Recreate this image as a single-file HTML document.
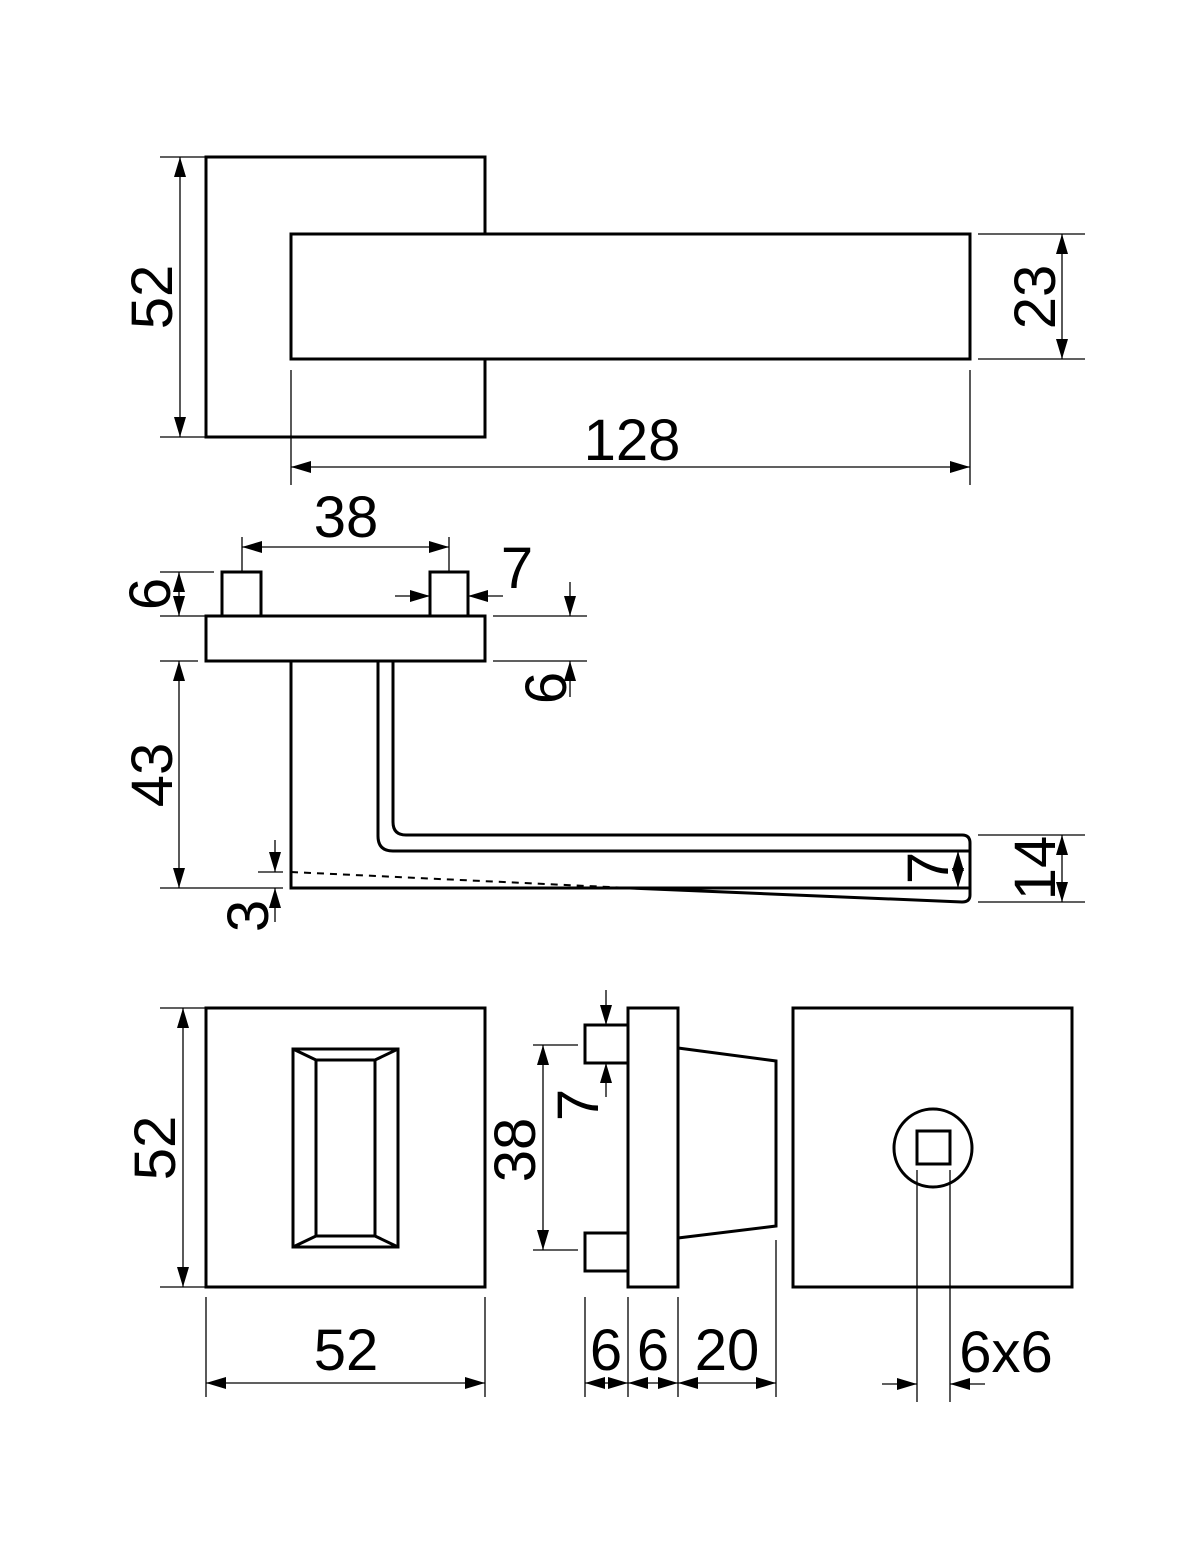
<!DOCTYPE html>
<html><head><meta charset="utf-8"><style>
html,body{margin:0;padding:0;background:#fff;}
svg{display:block;}
text{font-family:"Liberation Sans",Arial,sans-serif;font-size:58px;fill:#000;}
</style></head><body>
<svg width="1200" height="1558" viewBox="0 0 1200 1558" xmlns="http://www.w3.org/2000/svg">
<defs>
<marker id="a" viewBox="0 0 20 12" refX="20" refY="6" markerWidth="20" markerHeight="12" markerUnits="userSpaceOnUse" orient="auto-start-reverse"><path d="M0,0 L20,6 L0,12 Z" fill="#000"/></marker>
</defs>
<g fill="none" stroke="#000" stroke-width="3">
<rect x="206" y="157" width="279" height="280"/>
<rect x="291" y="234" width="679" height="125" fill="#fff"/>
<rect x="222" y="572" width="39" height="44"/>
<rect x="430" y="572" width="38" height="44"/>
<rect x="206" y="616" width="279" height="45"/>
<path d="M291,661 V888 H970"/>
<path d="M378,661 V836 Q378,851 393,851 H970"/>
<path d="M393,661 V822 Q393,835 406,835 H962 Q970,835 970,843 V895 Q970,902 962,902 L630,888"/>
<rect x="206" y="1008" width="279" height="279"/>
<rect x="293" y="1049" width="105" height="198"/>
<rect x="316" y="1060" width="59" height="176"/>
<path d="M293,1049 L316,1060 M398,1049 L375,1060 M293,1247 L316,1236 M398,1247 L375,1236"/>
<rect x="628" y="1008" width="50" height="279"/>
<rect x="585" y="1025" width="43" height="38"/>
<rect x="585" y="1233" width="43" height="38"/>
<path d="M678,1048 L776,1061 V1226 L678,1238"/>
<rect x="793" y="1008" width="279" height="279"/>
<circle cx="933" cy="1148" r="39"/>
<rect x="917" y="1131" width="33" height="33"/>
</g>
<path d="M291,872 L630,888" stroke="#000" stroke-width="2" stroke-dasharray="7,6" fill="none"/>
<g fill="none" stroke="#000" stroke-width="1.3">
<path d="M160,157 H206 M160,437 H206 M978,234 H1085 M978,359 H1085 M291,370 V485 M970,370 V485"/>
<path d="M242,537 V572 M449,537 V572 M160,572 H214 M160,616 H206 M493,616 H587 M493,661 H587 M160,661 H198 M160,888 H283 M258,872 H283 M978,835 H1085 M978,902 H1085"/>
<path d="M206,1297 V1397 M485,1297 V1397 M533,1045 H578 M533,1250 H578 M585,1297 V1397 M628,1297 V1397 M678,1297 V1397 M776,1240 V1397 M917,1170 V1402 M950,1170 V1402 M160,1008 H206 M160,1287 H206"/>
<path d="M180,157 V437" marker-start="url(#a)" marker-end="url(#a)"/>
<path d="M1062,234 V359" marker-start="url(#a)" marker-end="url(#a)"/>
<path d="M291,467 H970" marker-start="url(#a)" marker-end="url(#a)"/>
<path d="M242,547 H449" marker-start="url(#a)" marker-end="url(#a)"/>
<path d="M179,572 V616" marker-start="url(#a)" marker-end="url(#a)"/>
<path d="M395,596 H430" marker-end="url(#a)"/>
<path d="M503,596 H468" marker-end="url(#a)"/>
<path d="M570,582 V616" marker-end="url(#a)"/>
<path d="M570,697 V661" marker-end="url(#a)"/>
<path d="M179,661 V888" marker-start="url(#a)" marker-end="url(#a)"/>
<path d="M275,840 V872" marker-end="url(#a)"/>
<path d="M275,922 V888" marker-end="url(#a)"/>
<path d="M958,851 V888" marker-start="url(#a)" marker-end="url(#a)"/>
<path d="M1062,835 V902" marker-start="url(#a)" marker-end="url(#a)"/>
<path d="M183,1008 V1287" marker-start="url(#a)" marker-end="url(#a)"/>
<path d="M206,1383 H485" marker-start="url(#a)" marker-end="url(#a)"/>
<path d="M543,1045 V1250" marker-start="url(#a)" marker-end="url(#a)"/>
<path d="M606,990 V1025" marker-end="url(#a)"/>
<path d="M606,1097 V1063" marker-end="url(#a)"/>
<path d="M585,1383 H628" marker-start="url(#a)" marker-end="url(#a)"/>
<path d="M628,1383 H678" marker-start="url(#a)" marker-end="url(#a)"/>
<path d="M678,1383 H776" marker-start="url(#a)" marker-end="url(#a)"/>
<path d="M882,1384 H917" marker-end="url(#a)"/>
<path d="M985,1384 H950" marker-end="url(#a)"/>
</g>
<text x="632" y="460" text-anchor="middle">128</text>
<text x="346" y="537" text-anchor="middle">38</text>
<text x="517" y="588" text-anchor="middle">7</text>
<text x="346" y="1370" text-anchor="middle">52</text>
<text x="606" y="1370" text-anchor="middle">6</text>
<text x="653" y="1370" text-anchor="middle">6</text>
<text x="727" y="1370" text-anchor="middle">20</text>
<text x="1006" y="1372" text-anchor="middle">6x6</text>
<text transform="translate(172,297) rotate(-90)" text-anchor="middle">52</text>
<text transform="translate(1055,297) rotate(-90)" text-anchor="middle">23</text>
<text transform="translate(170,594) rotate(-90)" text-anchor="middle">6</text>
<text transform="translate(566,688) rotate(-90)" text-anchor="middle">6</text>
<text transform="translate(172,775) rotate(-90)" text-anchor="middle">43</text>
<text transform="translate(268,916) rotate(-90)" text-anchor="middle">3</text>
<text transform="translate(948,868) rotate(-90)" text-anchor="middle">7</text>
<text transform="translate(1055,868) rotate(-90)" text-anchor="middle">14</text>
<text transform="translate(175,1148) rotate(-90)" text-anchor="middle">52</text>
<text transform="translate(535,1150) rotate(-90)" text-anchor="middle">38</text>
<text transform="translate(598,1105) rotate(-90)" text-anchor="middle">7</text>
</svg>
</body></html>
